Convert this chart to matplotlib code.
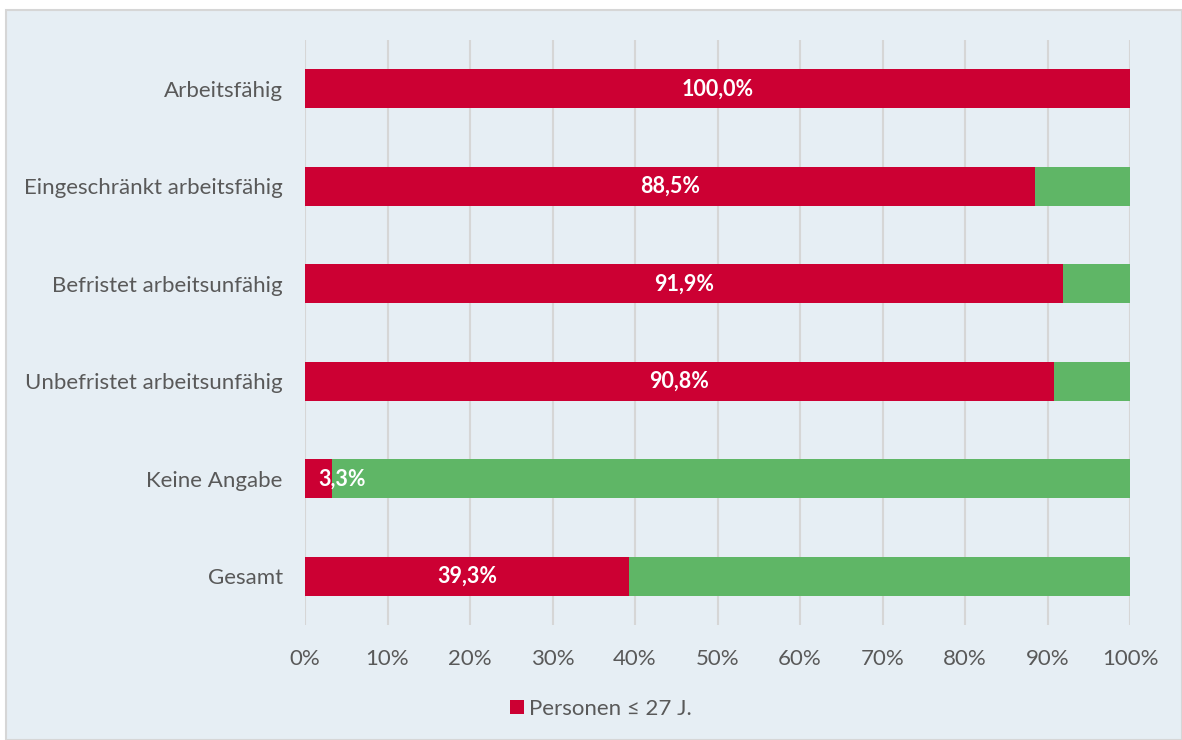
import matplotlib.pyplot as plt
from matplotlib.patches import Rectangle

plt.rcParams['font.family'] = ['Lato', 'DejaVu Sans']

categories = ['Arbeitsfähig', 'Eingeschränkt arbeitsfähig', 'Befristet arbeitsunfähig',
              'Unbefristet arbeitsunfähig', 'Keine Angabe', 'Gesamt']
young = [100.0, 88.5, 91.9, 90.8, 3.3, 39.3]
older = [100 - v for v in young]
labels = ['100,0%', '88,5%', '91,9%', '90,8%', '3,3%', '39,3%']
ticks = [0, 10, 20, 30, 40, 50, 60, 70, 80, 90, 100]

RED = '#CC0033'
GREEN = '#5FB666'
BG = '#E6EEF4'
GRAY = '#595959'

fig = plt.figure(figsize=(11.82, 7.40), dpi=100)
fig.patch.set_facecolor('white')
fig.patches.append(Rectangle((6 / 1182, 0), 1 - 6 / 1182, 1 - 10 / 740,
                             transform=fig.transFigure, facecolor=BG,
                             edgecolor='#D6D6D6', linewidth=1.5, zorder=-10))

ax = fig.add_axes([305 / 1182, 1 - 625 / 740, 825 / 1182, 585 / 740])
ax.set_facecolor('none')

y = list(range(len(categories)))
ax.barh(y, young, height=0.4, color=RED, label='Personen ≤ 27 J.', zorder=3)
ax.barh(y, older, left=young, height=0.4, color=GREEN, zorder=3)

for i, (v, lab) in enumerate(zip(young, labels)):
    ha = 'center' if v > 10 else 'left'
    ax.text(v / 2, i, lab, ha=ha, va='center', color='white',
            fontsize=15.5, fontweight='bold', zorder=4)

ax.set_ylim(len(categories) - 0.5, -0.5)
ax.set_xlim(0, 100)
ax.set_yticks(y)
ax.set_yticklabels(categories)
ax.set_xticks(ticks)
ax.set_xticklabels([f'{t}%' for t in ticks])
ax.tick_params(axis='both', length=0, labelsize=16, labelcolor=GRAY)
ax.tick_params(axis='x', pad=17)
ax.tick_params(axis='y', pad=16)
ax.grid(axis='x', color='#D6D6D6', linewidth=1.5, zorder=0)
for s in ax.spines.values():
    s.set_visible(False)

leg = fig.legend(loc='center', bbox_to_anchor=(601 / 1182, 1 - 709 / 740), frameon=False,
                 fontsize=16, handlelength=0.6, handleheight=0.6, handletextpad=0.25)
for t in leg.get_texts():
    t.set_color(GRAY)

fig.savefig('out.png', dpi=100)
